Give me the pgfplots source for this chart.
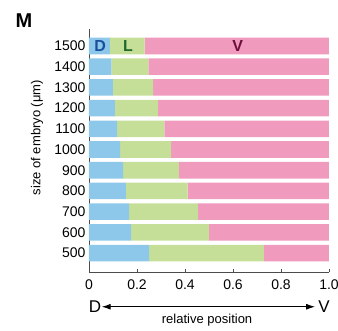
\documentclass[border=0pt]{standalone}
\usepackage{fontspec}
\setmainfont{Liberation Sans}
\usepackage{pgfplots}
\usepackage{pgfplotstable}
\pgfplotsset{compat=1.18}
\usetikzlibrary{arrows.meta}
\definecolor{cD}{HTML}{8DC8EA}
\definecolor{cL}{HTML}{C5DF98}
\definecolor{cV}{HTML}{F09ABE}
\definecolor{tD}{HTML}{1B4F9C}
\definecolor{tL}{HTML}{1E6A2C}
\definecolor{tV}{HTML}{6E0F3C}
\pgfplotstableread{
size D L V
500 0.251 0.478 0.271
600 0.176 0.323 0.501
700 0.167 0.287 0.546
800 0.154 0.257 0.589
900 0.142 0.233 0.625
1000 0.130 0.212 0.658
1100 0.117 0.197 0.686
1200 0.108 0.1795 0.7125
1300 0.100 0.167 0.733
1400 0.093 0.154 0.753
1500 0.0875 0.1445 0.768
}\datatable
\begin{document}
\begin{tikzpicture}
\useasboundingbox (-89pt,-58pt) rectangle (249pt,272pt);
\begin{axis}[
  at={(0,0)}, anchor=south west,
  scale only axis, width=240pt, height=243pt,
  xbar stacked, bar width=80,
  xmin=0, xmax=1, ymin=408.5, ymax=1582,
  axis x line*=bottom, axis y line*=left,
  axis line style={draw=black!70, line width=0.8pt},
  xtick={0,0.2,0.4,0.6,0.8,1.0},
  xticklabels={0,0.2,0.4,0.6,0.8,1.0},
  ytick={500,600,...,1500},
  /pgf/number format/1000 sep={},
  /pgf/number format/assume math mode=true,
  ticklabel style={font=\fontsize{14}{16}\selectfont},
  xtick style={draw=black!70, line width=0.8pt},
  major tick length=3pt,
  tick align=inside,
  ytick style={draw=none},
  xticklabel style={yshift=-4pt},
  clip=false,
]
\addplot[fill=cD, draw=none] table[x=D, y=size] {\datatable};
\addplot[fill=cL, draw=none] table[x=L, y=size] {\datatable};
\addplot[fill=cV, draw=none] table[x=V, y=size] {\datatable};
\coordinate (lD) at (axis cs:0.046,1500);
\coordinate (lL) at (axis cs:0.1625,1500);
\coordinate (lV) at (axis cs:0.62,1500);
\coordinate (pM) at (rel axis cs:-0.271,1.033);
\coordinate (pY) at (rel axis cs:-0.217,0.553);
\coordinate (pD) at (rel axis cs:0.025,-0.144);
\coordinate (pV) at (rel axis cs:0.979,-0.144);
\coordinate (a1) at (rel axis cs:0.053,-0.143);
\coordinate (a2) at (rel axis cs:0.942,-0.143);
\coordinate (pR) at (rel axis cs:0.492,-0.2);
\end{axis}
\node[font=\fontsize{16}{18}\selectfont\bfseries, text=tD] at (lD) {D};
\node[font=\fontsize{16}{18}\selectfont\bfseries, text=tL] at (lL) {L};
\node[font=\fontsize{16}{18}\selectfont\bfseries, text=tV] at (lV) {V};
\node[font=\fontsize{20}{22}\selectfont\bfseries] at (pM) {M};
\node[rotate=90, font=\fontsize{13}{15}\selectfont] at (pY) {size of embryo (μm)};
\node[font=\fontsize{17}{19}\selectfont] at (pD) {D};
\node[font=\fontsize{17}{19}\selectfont] at (pV) {V};
\draw[line width=1pt, {Latex[length=9pt,width=6pt]}-{Latex[length=9pt,width=6pt]}] (a1) -- (a2);
\node[font=\fontsize{13}{15}\selectfont] at (pR) {relative position};
\end{tikzpicture}
\end{document}
